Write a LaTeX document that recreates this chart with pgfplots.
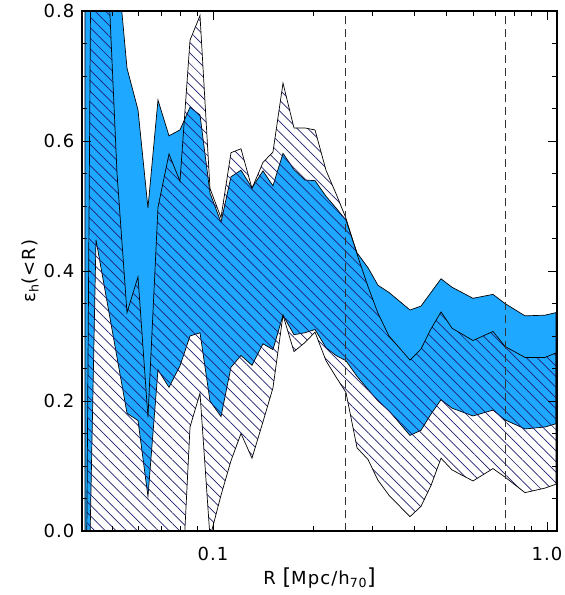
\documentclass[border=0pt]{standalone}
\usepackage{fontspec}
\setmainfont{DejaVu Sans}[LetterSpace=6]
\usepackage{pgfplots}
\pgfplotsset{compat=1.18}
\usetikzlibrary{patterns.meta}
\definecolor{bandblue}{RGB}{31,168,255}
\definecolor{hatchnavy}{RGB}{30,30,110}
\begin{document}
\begin{tikzpicture}[font=\fontsize{18}{21}\selectfont]
\begin{axis}[
  at={(0,0)}, anchor=south west,
  scale only axis, width=475pt, height=520pt,
  xmode=log, xmin=0.04053, xmax=1.0713, ymin=0, ymax=0.8,
  xtick={0.1,1}, xticklabels={0.1,1.0},
  minor xtick={0.05,0.06,0.07,0.08,0.09,0.2,0.3,0.4,0.5,0.6,0.7,0.8,0.9},
  ytick={0,0.2,0.4,0.6,0.8}, yticklabels={0.0,0.2,0.4,0.6,0.8},
  minor y tick num=3,
  major tick length=9pt, minor tick length=5pt,
  tick style={black, line width=0.8pt},
  axis line style={line width=1.1pt},
  axis on top,
  xticklabel style={anchor=center, yshift=-23pt},
  yticklabel style={anchor=east, xshift=-4pt},
  xlabel={R {\fontsize{22}{22}\selectfont[}Mpc/h\textsubscript{70}{\fontsize{22}{22}\selectfont]}},
  ylabel={ε\textsubscript{h}(<R)},
  xlabel style={at={(axis description cs:0.5,-0.0904)}, anchor=center},
  ylabel style={at={(axis description cs:-0.1095,0.5)}, anchor=center},
]
% blue band: upper curve left to right, lower curve right to left
\addplot[fill=bandblue, draw=black, line width=0.7pt] coordinates {
(0.04137,1.5) (0.04464,1.3) (0.04783,1.0) (0.05160,0.88) (0.05528,0.712)
(0.05963,0.648) (0.06387,0.497) (0.06844,0.663) (0.07383,0.608) (0.07965,0.617)
(0.08535,0.652) (0.09143,0.640) (0.09795,0.520) (0.10567,0.475) (0.11320,0.545)
(0.12129,0.555) (0.13084,0.528) (0.14114,0.554) (0.15118,0.531) (0.16203,0.581)
(0.17478,0.556) (0.18854,0.540) (0.20203,0.539) (0.21794,0.515) (0.23349,0.497)
(0.25015,0.478) (0.26989,0.428) (0.29114,0.405) (0.31189,0.378) (0.33645,0.367)
(0.38889,0.340) (0.41954,0.346) (0.48161,0.388) (0.51953,0.375) (0.60034,0.358)
(0.68921,0.364) (0.74855,0.350) (0.85930,0.331) (0.98628,0.332) (1.0639,0.336)
(1.0639,0.165) (0.98628,0.160) (0.85930,0.157) (0.74855,0.171) (0.68921,0.186)
(0.60034,0.177) (0.51953,0.189) (0.48161,0.202) (0.44950,0.180) (0.41954,0.155)
(0.38889,0.147) (0.33645,0.185) (0.31189,0.200) (0.29114,0.218) (0.26989,0.238)
(0.25015,0.262) (0.23349,0.270) (0.21794,0.282) (0.20203,0.310) (0.18854,0.305)
(0.17478,0.302) (0.16203,0.332) (0.15118,0.279) (0.14114,0.288) (0.13084,0.255)
(0.12129,0.270) (0.11320,0.252) (0.10567,0.176) (0.09795,0.200) (0.09143,0.305)
(0.08535,0.300) (0.07965,0.254) (0.07383,0.221) (0.06844,0.248) (0.06387,0.053)
(0.05963,0.170) (0.05528,0.181) (0.04464,0.448) (0.04137,-0.4) (0.04137,1.5)
};
% hatched band
\addplot[pattern={Lines[angle=-45,distance=7.5pt,line width=0.7pt]}, pattern color=hatchnavy,
  draw=black, line width=0.7pt] coordinates {
(0.04137,-0.4) (0.04464,2.0) (0.04783,0.93) (0.05160,0.55) (0.05528,0.336)
(0.05963,0.391) (0.06387,0.175) (0.06844,0.498) (0.07383,0.580) (0.07965,0.538)
(0.08535,0.755) (0.09143,0.793) (0.09795,0.527) (0.10567,0.482) (0.11320,0.582)
(0.12129,0.588) (0.13084,0.527) (0.14114,0.567) (0.15118,0.583) (0.16203,0.689)
(0.17478,0.620) (0.18854,0.620) (0.20203,0.617) (0.21794,0.555) (0.23349,0.519)
(0.25015,0.481) (0.26989,0.426) (0.29114,0.376) (0.31189,0.335) (0.33645,0.300)
(0.38889,0.263) (0.41954,0.280) (0.44950,0.311) (0.48161,0.337) (0.51953,0.312)
(0.60034,0.293) (0.68921,0.307) (0.74855,0.284) (0.85930,0.267) (0.98628,0.267)
(1.0639,0.274)
(1.0639,0.072) (0.98628,0.066) (0.85930,0.059) (0.74855,0.083) (0.68921,0.096)
(0.60034,0.077) (0.51953,0.094) (0.48161,0.112) (0.44950,0.070) (0.41954,0.038)
(0.38889,0.022) (0.33645,0.055) (0.31189,0.078) (0.29114,0.110) (0.26989,0.128)
(0.25015,0.213) (0.23349,0.237) (0.21794,0.262) (0.20203,0.306) (0.18854,0.290)
(0.17478,0.276) (0.16203,0.332) (0.15118,0.220) (0.14114,0.168) (0.13084,0.112)
(0.12129,0.150) (0.11320,0.108) (0.10567,0.055) (0.09795,-0.010) (0.09143,0.212)
(0.08535,0.160) (0.07965,-0.150) (0.07383,-0.3) (0.05528,-0.4) (0.04137,-0.6)
(0.04137,-0.4)
};
\addplot[black!80, line width=1pt, dash pattern=on 8pt off 5pt] coordinates {(0.25,0) (0.25,0.8)};
\addplot[black!80, line width=1pt, dash pattern=on 8pt off 5pt] coordinates {(0.75,0) (0.75,0.8)};
\end{axis}
\pgfresetboundingbox
\path (-82pt,-64pt) rectangle (483pt,531pt);
\end{tikzpicture}
\end{document}
